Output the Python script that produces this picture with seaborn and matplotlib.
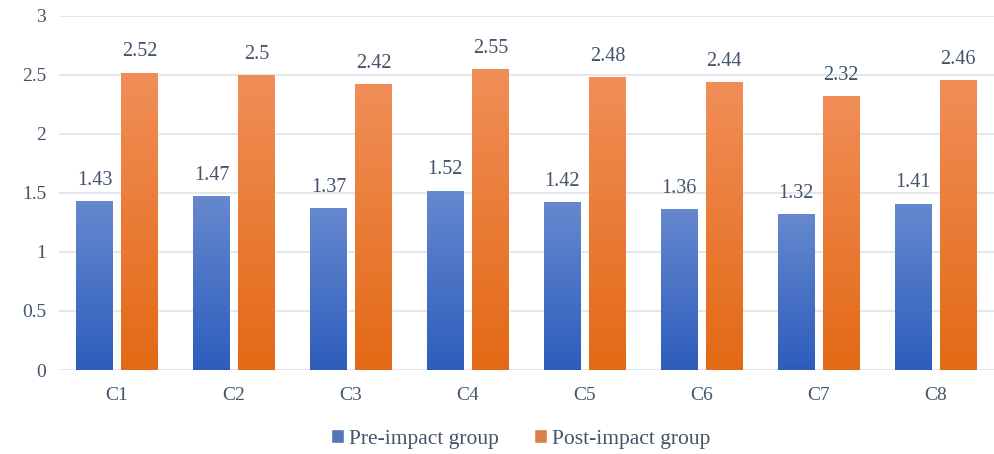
import numpy as np
import pandas as pd
import matplotlib
matplotlib.use("Agg")
import matplotlib.pyplot as plt
from matplotlib.colors import LinearSegmentedColormap
import seaborn as sns

categories = ["C1", "C2", "C3", "C4", "C5", "C6", "C7", "C8"]
pre_impact = [1.43, 1.47, 1.37, 1.52, 1.42, 1.36, 1.32, 1.41]
post_impact = [2.52, 2.50, 2.42, 2.55, 2.48, 2.44, 2.32, 2.46]
series_names = ["Pre-impact group", "Post-impact group"]
y_ticks = [0, 0.5, 1, 1.5, 2, 2.5, 3]

df = pd.DataFrame({
    "category": categories * 2,
    "value": pre_impact + post_impact,
    "group": [series_names[0]] * len(categories) + [series_names[1]] * len(categories),
})

sns.set_theme(style="white")
plt.rcParams["font.family"] = ["Liberation Serif", "DejaVu Serif"]
text_color = "#44546a"

# gradient stops (top colour, bottom colour) for each series
gradients = {
    series_names[0]: ("#6688cf", "#2d5dbc"),
    series_names[1]: ("#f18e58", "#e36915"),
}
base_colors = {series_names[0]: "#4472c4", series_names[1]: "#ed7d31"}

fig = plt.figure(figsize=(9.95, 4.54), dpi=100)
ax = fig.add_axes([0.059, 0.185, 0.940, 0.780])

sns.barplot(data=df, x="category", y="value", hue="group", order=categories,
            hue_order=series_names, palette=base_colors, width=0.77, gap=0.19,
            ax=ax, zorder=3, legend=True)

ax.set_ylim(0, 3)
ax.set_xlim(-0.5, len(categories) - 0.5)

# replace solid fills with vertical gradients clipped to each bar
for container, name in zip(ax.containers, series_names):
    top, bottom = gradients[name]
    cmap = LinearSegmentedColormap.from_list(name, [bottom, top])
    grad = np.linspace(0, 1, 256).reshape(-1, 1)
    for patch in container.patches:
        x0, y0 = patch.get_x(), patch.get_y()
        w, h = patch.get_width(), patch.get_height()
        im = ax.imshow(grad, cmap=cmap, origin="lower", aspect="auto",
                       extent=[x0, x0 + w, y0, y0 + h], zorder=3)
        im.set_clip_path(patch)
        patch.set_facecolor("none")
        patch.set_edgecolor("#ffffff")
        patch.set_linewidth(0.6)
        patch.set_alpha(0.6)

ax.set_ylim(0, 3)
ax.set_xlim(-0.5, len(categories) - 0.5)

for container, vals in zip(ax.containers, [pre_impact, post_impact]):
    ax.bar_label(container, labels=[f"{v:g}" for v in vals], padding=8,
                 fontsize=14.5, color=text_color)

ax.set_yticks(y_ticks)
ax.set_yticklabels([f"{t:g}" for t in y_ticks])
ax.yaxis.grid(True, color="#dfe3e8", linewidth=1.2, zorder=0)
ax.set_axisbelow(True)
for s in ax.spines.values():
    s.set_visible(False)
ax.tick_params(axis="y", length=0, pad=9, labelsize=14, labelcolor=text_color)
ax.tick_params(axis="x", length=0, pad=12, labelsize=14, labelcolor=text_color)
ax.set_xlabel("")
ax.set_ylabel("")

handles, labels = ax.get_legend_handles_labels()
leg = ax.legend(handles, labels, loc="center", bbox_to_anchor=(0.494, -0.195),
                ncol=2, frameon=False, fontsize=15.5, handlelength=0.6,
                handleheight=0.6, handletextpad=0.25, columnspacing=1.6)
for t in leg.get_texts():
    t.set_color(text_color)

fig.savefig("out.png", dpi=100)
